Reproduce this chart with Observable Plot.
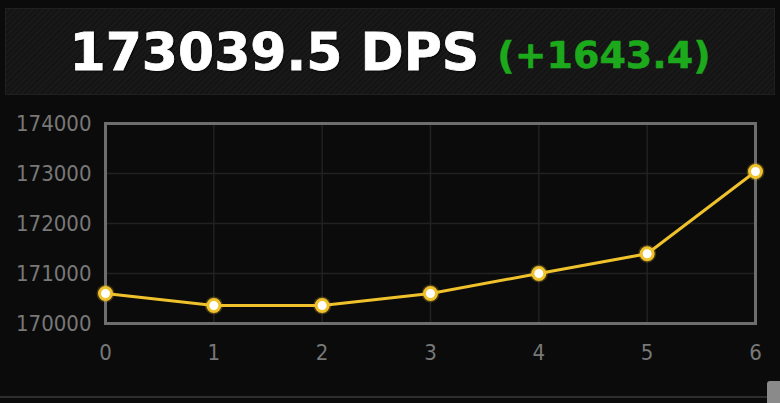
<!DOCTYPE html>
<html>
<head>
<meta charset="utf-8">
<script src="https://cdn.jsdelivr.net/npm/d3@7"></script>
<script src="https://cdn.jsdelivr.net/npm/@observablehq/plot@0.6"></script>
<style>
  html, body { margin: 0; padding: 0; background: #0b0b0b; width: 780px; height: 403px; overflow: hidden; }
  #header {
    position: absolute; left: 5px; top: 8px; width: 768px; height: 85px;
    border: 1px solid #202020;
    background: repeating-linear-gradient(135deg, #141414 0px, #141414 2px, #191919 2px, #191919 4px);
    display: flex; align-items: center; justify-content: center;
    font-family: "DejaVu Sans", Verdana, sans-serif; font-weight: bold;
  }
  #title { color: #ffffff; font-size: 52px; -webkit-text-stroke: 0.8px #ffffff; text-shadow: 0 0 2px #000, 1px 1px 2px #000; }
  #delta { color: #1ca91c; font-size: 38px; margin-left: 18px; position: relative; top: 3px; -webkit-text-stroke: 0.5px #1ca91c; }
  #chart { position: absolute; left: 0; top: 100px; }
  #bottomline { position: absolute; left: 0; top: 396px; width: 768px; height: 2px; background: #2e2e2e; }
  #scroll { position: absolute; left: 767px; top: 381px; width: 13px; height: 22px; background: #8a8a8a; border-radius: 3px 0 0 0; }
</style>
</head>
<body>
<div id="header"><span id="title"></span><span id="delta"></span></div>
<div id="chart"></div>
<div id="bottomline"></div>
<div id="scroll"></div>
<script>
const currentDps = "173039.5 DPS";
const deltaText = "(+1643.4)";
const xs = [0, 1, 2, 3, 4, 5, 6];
const dps = [170600, 170360, 170360, 170600, 171000, 171396.1, 173039.5];
const yTicks = [170000, 171000, 172000, 173000, 174000];
const xTicks = [0, 1, 2, 3, 4, 5, 6];

document.getElementById("title").textContent = currentDps;
document.getElementById("delta").textContent = deltaText;

const data = xs.map((x, i) => ({x, y: dps[i]}));
const gold = "#efc22c";

const chart = Plot.plot({
  width: 780,
  height: 280,
  marginLeft: 105,
  marginRight: 25,
  marginTop: 23,
  marginBottom: 57,
  style: { background: "transparent", color: "#787878", fontFamily: "'DejaVu Sans Condensed', 'DejaVu Sans', sans-serif", fontSize: "22px", fontStretch: "condensed" },
  x: { domain: [0, 6] },
  y: { domain: [170000, 174000] },
  marks: [
    Plot.gridY(yTicks, { stroke: "#222222", strokeOpacity: 1, strokeWidth: 1.5 }),
    Plot.gridX(xTicks, { stroke: "#222222", strokeOpacity: 1, strokeWidth: 1.5 }),
    Plot.frame({ stroke: "#6e6e6e", strokeWidth: 3 }),
    Plot.axisY(yTicks, { tickSize: 0, tickPadding: 14, tickFormat: d => String(d), label: null, fill: "#787878" }),
    Plot.axisX(xTicks, { tickSize: 0, tickPadding: 21, tickFormat: d => String(d), label: null, fill: "#787878" }),
    Plot.line(data, { x: "x", y: "y", stroke: gold, strokeWidth: 3 }),
    Plot.dot(data, { x: "x", y: "y", r: 9, fill: gold, fillOpacity: 0.25, stroke: "none" }),
    Plot.dot(data, { x: "x", y: "y", r: 6, fill: "#ffffff", stroke: gold, strokeWidth: 3 })
  ]
});
document.getElementById("chart").appendChild(chart);
</script>
</body>
</html>
